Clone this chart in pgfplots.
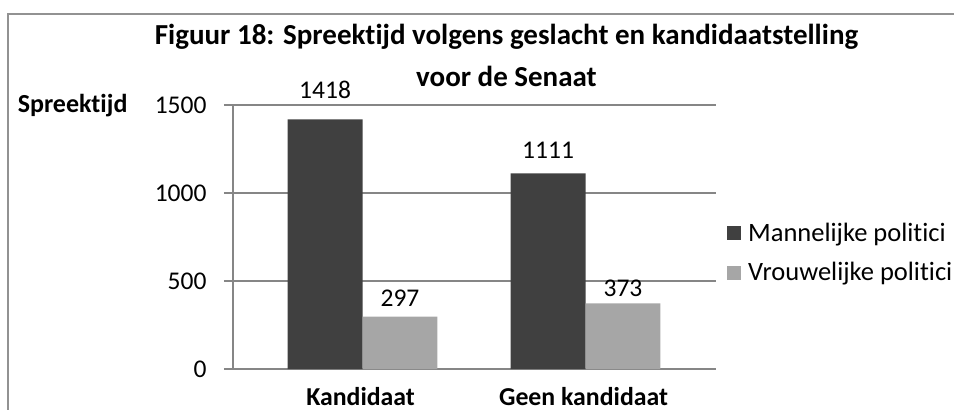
\documentclass[border=0pt]{standalone}
\usepackage{pgfplots}
\usepackage{pgfplotstable}
\pgfplotsset{compat=1.18}
\usepackage{fontspec}
\setmainfont{Carlito}[Ligatures=NoCommon]
\definecolor{darkbar}{HTML}{404040}
\definecolor{lightbar}{HTML}{A6A6A6}
\definecolor{gridgray}{HTML}{868686}
\pgfplotstableread{
x y s
0 1418 21
1 1111 15
}\mannen
\pgfplotstableread{
x y s
0 297 10
1 373 7
}\vrouwen
\begin{document}
\begin{tikzpicture}
\path[use as bounding box] (0pt,0pt) rectangle (954pt,410pt);
\draw[gridgray!90, line width=1.4pt] (8pt,-2pt) -- (8pt,396pt) -- (956pt,396pt);
\begin{axis}[
  at={(233pt,41pt)}, anchor=south west,
  scale only axis, width=483pt, height=264pt,
  ybar=0pt, bar width=0.336,
  xmin=-0.581, xmax=1.585,
  ymin=0, ymax=1500,
  ytick={0,500,1000,1500},
  xtick={0,1},
  xticklabels={Kandidaat,Geen kandidaat},
  axis lines=left,
  axis line style={-, draw=gridgray, line width=1.3pt},
  ymajorgrids,
  grid style={draw=gridgray, line width=1.3pt},
  tick align=outside,
  major tick length=9pt,
  ytick style={draw=gridgray, line width=1.3pt},
  xtick style={draw=none},
  /pgf/number format/assume math mode=true,
  /pgf/number format/1000 sep={},
  yticklabel style={font=\fontsize{25.5}{30}\selectfont, xshift=-14pt},
  xticklabel style={font=\fontsize{25.8}{30}\selectfont\bfseries, anchor=base, inner sep=0pt, yshift=-27pt, xshift=-2pt},
  ylabel={\bfseries Spreektijd},
  ylabel style={rotate=-90, font=\fontsize{26}{30}\selectfont, at={(axis description cs:0,1)}, anchor=base east, xshift=-102pt, yshift=-8pt},
  title={Figuur 18: Spreektijd volgens geslacht en kandidaatstelling\\voor de Senaat},
  title style={font=\fontsize{29}{42}\selectfont\bfseries, align=center, at={(axis description cs:0.5,1)}, anchor=north, xshift=32pt, yshift=78pt},
  visualization depends on={\thisrow{s} \as \labshift},
  nodes near coords,
  nodes near coords style={font=\fontsize{25.5}{30}\selectfont, color=black, anchor=base, inner sep=0pt, yshift=\labshift pt},
  every node near coord/.append style={/pgf/number format/assume math mode=true},
  legend style={draw=none, fill=none, at={(axis description cs:1.0228,0.441)}, anchor=west, font=\fontsize{26.5}{30}\selectfont, row sep=16pt, column sep=5pt, inner sep=0pt},
  legend cell align=left,
  legend image code/.code={\fill[#1] (0pt,-7pt) rectangle (14pt,7pt);},
]
\addplot[fill=darkbar, draw=none] table[x=x, y=y] {\mannen};
\addplot[fill=lightbar, draw=none] table[x=x, y=y] {\vrouwen};
\legend{Mannelijke politici, Vrouwelijke politici}
\end{axis}
\end{tikzpicture}
\end{document}
